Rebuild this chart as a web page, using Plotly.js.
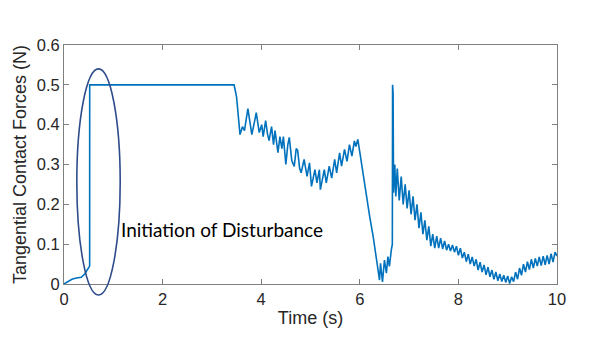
<!DOCTYPE html>
<html>
<head>
<meta charset="utf-8">
<script src="https://cdn.plot.ly/plotly-3.0.1.min.js"></script>
<style>
  html, body { margin: 0; padding: 0; background: #fff; }
  #chart { width: 598px; height: 350px; }
</style>
</head>
<body>
<div id="chart"></div>
<script>
// time (s) and tangential contact force (N)
const timeStart = [0, 0.08, 0.16, 0.25, 0.35, 0.42, 0.48, 0.52, 0.521, 3.45];
const forceStart = [0, 0.006, 0.012, 0.015, 0.017, 0.025, 0.036, 0.045, 0.5, 0.5];

const timeDrop = [3.50, 3.53, 3.57, 3.62, 3.66, 3.73, 3.78, 3.81, 3.86, 3.90,
  3.96, 4.01, 4.04, 4.09, 4.13, 4.16, 4.21, 4.25, 4.28, 4.34,
  4.38, 4.42, 4.45, 4.50, 4.54, 4.57, 4.62, 4.67, 4.71, 4.74,
  4.78, 4.81, 4.87, 4.93, 4.98, 5.02, 5.09, 5.13, 5.18, 5.20,
  5.28, 5.32, 5.38, 5.43, 5.49, 5.53, 5.59, 5.63, 5.69, 5.74,
  5.79, 5.84, 5.89, 5.92, 5.96];
const forceDrop = [0.47, 0.43, 0.375, 0.395, 0.385, 0.44, 0.39, 0.375, 0.405, 0.43,
  0.38, 0.40, 0.37, 0.41, 0.375, 0.36, 0.395, 0.35, 0.385, 0.33,
  0.37, 0.34, 0.37, 0.30, 0.35, 0.368, 0.31, 0.295, 0.34, 0.335,
  0.29, 0.279, 0.313, 0.27, 0.304, 0.245, 0.287, 0.254, 0.287, 0.237,
  0.287, 0.254, 0.296, 0.266, 0.313, 0.279, 0.329, 0.296, 0.338, 0.308,
  0.35, 0.321, 0.359, 0.345, 0.363];

const timeSlip = [6.00, 6.06, 6.13, 6.20, 6.27, 6.33, 6.37, 6.40, 6.42, 6.46,
  6.50, 6.54, 6.57, 6.60, 6.64, 6.66, 6.665, 6.675, 6.685];
const forceSlip = [0.33, 0.28, 0.22, 0.17, 0.12, 0.07, 0.035, 0.01, 0.052, 0.005,
  0.06, 0.027, 0.069, 0.044, 0.086, 0.10, 0.50, 0.48, 0.229];

const timeRecover = [6.71, 6.73, 6.76, 6.80, 6.84, 6.88, 6.92, 6.96, 7.00, 7.04,
  7.08, 7.12, 7.16, 7.20, 7.24, 7.28, 7.32, 7.36, 7.40, 7.44,
  7.48, 7.52, 7.56, 7.60, 7.64, 7.68, 7.72, 7.76, 7.80, 7.84,
  7.88, 7.92, 7.96, 8.00, 8.04, 8.08, 8.12, 8.16, 8.20, 8.24,
  8.28, 8.32, 8.36, 8.40, 8.44, 8.48, 8.52, 8.56, 8.60, 8.64,
  8.68, 8.72, 8.76, 8.80, 8.84, 8.88, 8.92, 8.96, 9.00, 9.04,
  9.08, 9.12, 9.16, 9.20, 9.24, 9.28, 9.32, 9.36, 9.40, 9.44,
  9.48, 9.52, 9.56, 9.60, 9.64, 9.68, 9.72, 9.76, 9.80, 9.84,
  9.88, 9.92, 9.96, 10.0];
const forceRecover = [0.30, 0.22, 0.29, 0.21, 0.27, 0.20, 0.25, 0.19, 0.235, 0.175,
  0.22, 0.16, 0.20, 0.14, 0.18, 0.125, 0.16, 0.11, 0.145, 0.095,
  0.125, 0.09, 0.12, 0.09, 0.115, 0.088, 0.108, 0.085, 0.10, 0.083,
  0.098, 0.08, 0.095, 0.072, 0.09, 0.065, 0.08, 0.056, 0.075, 0.05,
  0.068, 0.045, 0.062, 0.035, 0.055, 0.03, 0.048, 0.023, 0.042, 0.018,
  0.035, 0.012, 0.03, 0.008, 0.025, 0.006, 0.022, 0.004, 0.02, 0.001,
  0.018, 0.006, 0.03, 0.012, 0.04, 0.022, 0.05, 0.03, 0.056, 0.036,
  0.062, 0.04, 0.064, 0.045, 0.068, 0.046, 0.07, 0.048, 0.072, 0.05,
  0.076, 0.055, 0.08, 0.07];

const xTicks = [0, 2, 4, 6, 8, 10];
const yTicks = [0, 0.1, 0.2, 0.3, 0.4, 0.5, 0.6];

const timeAll = timeStart.concat(timeDrop, timeSlip, timeRecover);
const forceAll = forceStart.concat(forceDrop, forceSlip, forceRecover);

const trace = {
  x: timeAll,
  y: forceAll,
  type: "scatter",
  mode: "lines",
  line: { color: "#0072BD", width: 1.6 },
  hoverinfo: "skip",
};

const FONT = "Liberation Sans, Arial, sans-serif";

const axisCommon = {
  showline: true,
  linecolor: "#7f7f7f",
  linewidth: 1,
  mirror: "ticks",
  ticks: "inside",
  ticklen: 5,
  tickcolor: "#7f7f7f",
  showgrid: false,
  zeroline: false,
  tickfont: { family: FONT, size: 16.5, color: "#262626" },
};

const layout = {
  width: 598,
  height: 350,
  margin: { l: 64, r: 41, t: 45, b: 66 },
  paper_bgcolor: "#ffffff",
  plot_bgcolor: "#ffffff",
  showlegend: false,
  xaxis: Object.assign({}, axisCommon, {
    range: [0, 10],
    tickvals: xTicks,
    ticktext: xTicks.map(String),
    title: { text: "Time (s)", font: { family: FONT, size: 18, color: "#262626" }, standoff: 4 },
  }),
  yaxis: Object.assign({}, axisCommon, {
    range: [0, 0.6],
    tickvals: yTicks,
    ticktext: yTicks.map(v => (v === 0 ? "0" : v.toFixed(1))),
    title: { text: "Tangential Contact Forces (N)", font: { family: FONT, size: 18, color: "#262626" }, standoff: 5 },
  }),
  shapes: [
    {
      type: "circle",
      xref: "x",
      yref: "paper",
      x0: 0.26,
      x1: 1.14,
      y0: -0.046,
      y1: 0.9,
      line: { color: "#2E4C8C", width: 1.6 },
    },
  ],
  annotations: [
    {
      text: "Initiation of Disturbance",
      xref: "x",
      yref: "y",
      x: 1.12,
      y: 0.138,
      xanchor: "left",
      yanchor: "middle",
      showarrow: false,
      font: { family: "Lato, Carlito, sans-serif", size: 19, color: "#000000" },
    },
  ],
};

Plotly.newPlot("chart", [trace], layout, { displayModeBar: false, staticPlot: true });
</script>
</body>
</html>
